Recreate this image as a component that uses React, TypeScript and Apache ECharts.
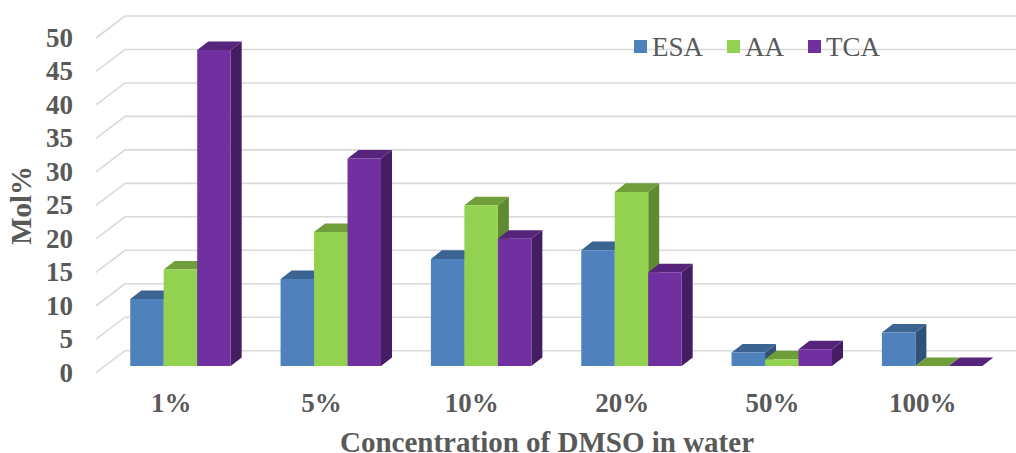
import React, { useEffect, useRef } from "react";
import * as echarts from "echarts";

const categories = ["1%", "5%", "10%", "20%", "50%", "100%"];
const esa = [10, 13, 16, 17.3, 2, 5];
const aa = [14.4, 20, 24, 26, 1, 0];
const tca = [47.2, 31, 19, 14, 2.5, 0];
const gridTicks = [0, 5, 10, 15, 20, 25, 30, 35, 40, 45, 50];

const FONT = '"Liberation Serif", "Times New Roman", serif';
const TEXT = "#595959";
const WALL = { dx: 29, dy: -22 };
const BAR_SHIFT = { dx: 9.3, dy: -6.7 };
const BAR_DEPTH = { dx: 11, dy: -8.6 };
const BAND_TO_BAR = 4.49;

const palette = [
  { name: "ESA", data: esa, front: "#4F81BD", top: "#3B6493", side: "#315278" },
  { name: "AA", data: aa, front: "#92D250", top: "#6F9E3A", side: "#5F8A32" },
  { name: "TCA", data: tca, front: "#7030A0", top: "#56247A", side: "#451D62" },
];

function barSeries(p: (typeof palette)[number], index: number) {
  return {
    type: "custom",
    name: p.name,
    itemStyle: { color: p.front },
    z: 5,
    encode: { x: 0, y: 1 },
    data: p.data.map((v, i) => [i, v]),
    renderItem: (_: any, api: any) => {
      const c = api.value(0);
      const top = api.coord([c, api.value(1)]);
      const base = api.coord([c, 0]);
      const w = api.size([1, 0])[0] / BAND_TO_BAR;
      const x0 = base[0] - 1.5 * w + index * w + BAR_SHIFT.dx;
      const x1 = x0 + w;
      const yt = top[1] + BAR_SHIFT.dy;
      const yb = base[1] + BAR_SHIFT.dy;
      const { dx, dy } = BAR_DEPTH;
      const poly = (points: number[][], fill: string) => ({
        type: "polygon",
        shape: { points },
        style: { fill },
      });
      return {
        type: "group",
        children: [
          poly([[x1, yt], [x1 + dx, yt + dy], [x1 + dx, yb + dy], [x1, yb]], p.side),
          poly([[x0, yt], [x0 + dx, yt + dy], [x1 + dx, yt + dy], [x1, yt]], p.top),
          poly([[x0, yt], [x1, yt], [x1, yb], [x0, yb]], p.front),
        ],
      };
    },
  };
}

const wallSeries = {
  type: "custom",
  silent: true,
  z: 1,
  encode: { x: 0, y: 1 },
  data: gridTicks.map((v) => [0, v]),
  renderItem: (params: any, api: any) => {
    const y = api.coord([0, api.value(1)])[1];
    const left = params.coordSys.x;
    const right = left + params.coordSys.width + WALL.dx;
    return {
      type: "polyline",
      shape: {
        points: [
          [left, y],
          [left + WALL.dx, y + WALL.dy],
          [right, y + WALL.dy],
        ],
      },
      style: { stroke: "#D9D9D9", lineWidth: 1.6, fill: "none" },
    };
  },
};

export default function App() {
  const ref = useRef<HTMLDivElement>(null);
  useEffect(() => {
    const chart = echarts.init(ref.current!, undefined, { renderer: "svg" });
    chart.setOption({
      animation: false,
      backgroundColor: "#FFFFFF",
      textStyle: { fontFamily: FONT },
      grid: { left: 96, top: 38, width: 902, height: 334.7, containLabel: false, outerBoundsMode: "none" },
      legend: {
        left: 629,
        top: 28,
        itemWidth: 13,
        itemHeight: 13,
        itemGap: 24,
        icon: "rect",
        data: palette.map((p) => p.name),
        textStyle: { fontFamily: FONT, fontSize: 27, color: TEXT, padding: [2, 0, 0, 0] },
      },
      xAxis: {
        type: "category",
        data: categories,
        axisLine: { show: false },
        axisTick: { show: false },
        splitLine: { show: false },
        axisLabel: { fontFamily: FONT, fontSize: 27, fontWeight: "bold", color: TEXT, margin: 17 },
        name: "Concentration of DMSO in water",
        nameLocation: "middle",
        nameGap: 58,
        nameTextStyle: { fontFamily: FONT, fontSize: 29, lineHeight: 22, fontWeight: "bold", color: TEXT },
      },
      yAxis: {
        type: "value",
        min: 0,
        max: 50,
        interval: 5,
        axisLine: { show: false },
        axisTick: { show: false },
        splitLine: { show: false },
        axisLabel: { fontFamily: FONT, fontSize: 27, fontWeight: "bold", color: TEXT, margin: 23 },
        name: "Mol%",
        nameLocation: "middle",
        nameGap: 58,
        nameRotate: 90,
        nameTextStyle: { fontFamily: FONT, fontSize: 29, fontWeight: "bold", color: TEXT },
      },
      series: [wallSeries, ...palette.map((p, i) => barSeries(p, i))],
    });
    return () => chart.dispose();
  }, []);
  return (
    <div
      ref={ref}
      style={{ position: "fixed", left: 0, top: 0, width: 1016, height: 453 }}
    />
  );
}
